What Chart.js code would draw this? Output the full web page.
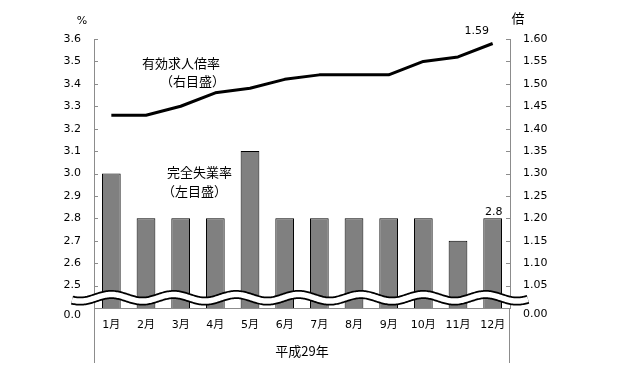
<!DOCTYPE html>
<html>
<head>
<meta charset="utf-8">
<script src="https://cdn.jsdelivr.net/npm/chart.js@4.4.1/dist/chart.umd.min.js"></script>
<style>
html,body{margin:0;padding:0;background:#fff;}
#wrap{width:618px;height:365px;position:relative;}
</style>
</head>
<body>
<div id="wrap"><canvas id="c" width="618" height="365"></canvas></div>
<script>
// ---- data ----
const months = ['1月','2月','3月','4月','5月','6月','7月','8月','9月','10月','11月','12月'];
const unemploymentRate = [3.0, 2.8, 2.8, 2.8, 3.1, 2.8, 2.8, 2.8, 2.8, 2.8, 2.7, 2.8];
const jobsRatio = [1.43, 1.43, 1.45, 1.48, 1.49, 1.51, 1.52, 1.52, 1.52, 1.55, 1.56, 1.59];
const leftTickLabels = ['0.0','2.5','2.6','2.7','2.8','2.9','3.0','3.1','3.2','3.3','3.4','3.5','3.6'];
const rightTickLabels = ['0.00','1.05','1.10','1.15','1.20','1.25','1.30','1.35','1.40','1.45','1.50','1.55','1.60'];
const yearLabel = '平成29年';
const leftUnit = '%';
const rightUnit = '倍';
const lineNote = ['有効求人倍率', '（右目盛）'];
const barNote = ['完全失業率', '（左目盛）'];

const NUM_FONT = "'DejaVu Sans', 'Noto Sans CJK JP', sans-serif";
const JP_FONT = "'Noto Sans CJK JP', 'DejaVu Sans', sans-serif";
const AXIS_COLOR = '#8c8c8c';

const overlay = {
  id: 'overlay',
  afterDatasetsDraw(chart) {
    const ctx = chart.ctx;
    const ca = chart.chartArea;
    const x = chart.scales.x, y = chart.scales.y, y1 = chart.scales.y1;
    ctx.save();
    // inner tick marks
    ctx.strokeStyle = AXIS_COLOR;
    ctx.lineWidth = 1;
    y.ticks.forEach(t => {
      const py = Math.round(y.getPixelForValue(t.value)) + 0.5;
      ctx.beginPath(); ctx.moveTo(ca.left, py); ctx.lineTo(ca.left + 4, py); ctx.stroke();
    });
    y1.ticks.forEach(t => {
      const py = Math.round(y1.getPixelForValue(t.value)) + 0.5;
      ctx.beginPath(); ctx.moveTo(ca.right - 4, py); ctx.lineTo(ca.right, py); ctx.stroke();
    });
    // extended vertical lines below the category axis
    ctx.beginPath();
    ctx.moveTo(Math.round(ca.left) + 0.5, ca.bottom); ctx.lineTo(Math.round(ca.left) + 0.5, ca.bottom + 55);
    ctx.moveTo(Math.round(ca.right) - 0.5, ca.bottom); ctx.lineTo(Math.round(ca.right) - 0.5, ca.bottom + 55);
    ctx.stroke();

    // wavy axis-break band
    const midY = (y.getPixelForValue(2.5) + y.getPixelForValue(2.4)) / 2 + 1;
    const x0 = ca.left - 22, x1 = ca.right + 18;
    const period = (x.getPixelForValue(2) - x.getPixelForValue(0)) * 0.9;
    const phaseX = x.getPixelForValue(0);
    const wave = () => {
      ctx.beginPath();
      for (let px = x0; px <= x1; px += 1) {
        const py = midY - 3.3 * Math.cos((px - phaseX) / period * 2 * Math.PI);
        if (px === x0) ctx.moveTo(px, py); else ctx.lineTo(px, py);
      }
    };
    ctx.lineCap = 'butt';
    wave(); ctx.strokeStyle = '#000'; ctx.lineWidth = 9; ctx.stroke();
    wave(); ctx.strokeStyle = '#fff'; ctx.lineWidth = 5.5; ctx.stroke();

    // zero labels under the break
    ctx.fillStyle = '#000';
    ctx.font = '11px ' + NUM_FONT;
    ctx.textBaseline = 'middle';
    ctx.textAlign = 'right';
    ctx.fillText(leftTickLabels[0], ca.left - 13, ca.bottom + 7);
    ctx.textAlign = 'left';
    ctx.fillText(rightTickLabels[0], ca.right + 13, ca.bottom + 6);

    // units
    ctx.font = '11px ' + NUM_FONT;
    ctx.textAlign = 'center';
    ctx.fillText(leftUnit, ca.left - 12, ca.top - 18);
    ctx.font = '13px ' + JP_FONT;
    ctx.fillText(rightUnit, ca.right + 8, ca.top - 21);

    // value labels
    const n = months.length - 1;
    ctx.font = '11px ' + NUM_FONT;
    ctx.fillText(jobsRatio[n].toFixed(2), x.getPixelForValue(n) - 16, y1.getPixelForValue(jobsRatio[n]) - 12);
    ctx.fillText(unemploymentRate[n].toFixed(1), x.getPixelForValue(n) + 1, y.getPixelForValue(unemploymentRate[n]) - 6);

    // series notes
    ctx.font = '13px ' + JP_FONT;
    ctx.textAlign = 'left';
    ctx.fillText(lineNote[0], 142, 63);
    ctx.fillText(lineNote[1], 160, 81);
    ctx.fillText(barNote[0], 167, 172);
    ctx.fillText(barNote[1], 162, 191);

    // year label
    ctx.textAlign = 'center';
    ctx.fillText(yearLabel, (ca.left + ca.right) / 2, ca.bottom + 43);
    ctx.restore();
  }
};

new Chart(document.getElementById('c'), {
  data: {
    labels: months,
    datasets: [
      {
        type: 'line',
        data: jobsRatio,
        yAxisID: 'y1',
        borderColor: '#000',
        borderWidth: 3,
        pointRadius: 0,
        tension: 0,
        borderJoinStyle: 'round',
        order: 0
      },
      {
        type: 'bar',
        data: unemploymentRate,
        yAxisID: 'y',
        backgroundColor: '#808080',
        borderColor: '#000',
        borderWidth: 1,
        borderSkipped: false,
        barPercentage: 0.54,
        categoryPercentage: 1.0,
        order: 1
      }
    ]
  },
  options: {
    responsive: false,
    devicePixelRatio: 1,
    animation: false,
    layout: { padding: { top: 39, left: 0, right: 0, bottom: 0 } },
    plugins: { legend: { display: false }, tooltip: { enabled: false } },
    scales: {
      x: {
        grid: { display: false, drawTicks: false },
        border: { display: true, color: AXIS_COLOR, width: 1 },
        ticks: { color: '#000', font: { size: 11, family: NUM_FONT }, padding: 11, maxRotation: 0, autoSkip: false },
        afterFit(s) { s.height = 57; }
      },
      y: {
        position: 'left',
        min: 2.4, max: 3.6,
        grid: { display: false, drawTicks: false },
        border: { display: true, color: AXIS_COLOR, width: 1 },
        ticks: {
          stepSize: 0.1, padding: 13, color: '#000',
          font: { size: 11, family: NUM_FONT },
          callback: (v, i) => i === 0 ? '' : leftTickLabels[i]
        },
        afterFit(s) { s.width = 94; }
      },
      y1: {
        position: 'right',
        min: 1.0, max: 1.6,
        grid: { display: false, drawTicks: false },
        border: { display: true, color: AXIS_COLOR, width: 1 },
        ticks: {
          stepSize: 0.05, padding: 13, color: '#000',
          font: { size: 11, family: NUM_FONT },
          callback: (v, i) => i === 0 ? '' : rightTickLabels[i]
        },
        afterFit(s) { s.width = 108; }
      }
    }
  },
  plugins: [overlay]
});
</script>
</body>
</html>
